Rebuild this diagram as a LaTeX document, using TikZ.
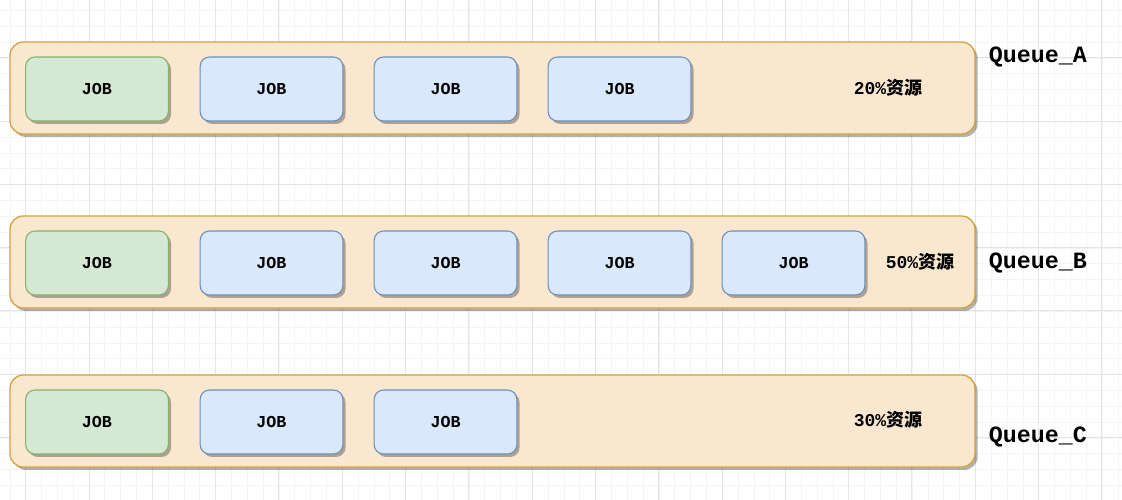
\documentclass[tikz,border=0pt]{standalone}
\usepackage{fontspec}
\newfontfamily\mono{Liberation Mono}
\newfontfamily\cjk{Noto Sans CJK SC}
\usetikzlibrary{shadows}
\definecolor{qfill}{HTML}{FAE7D0}
\definecolor{qdraw}{HTML}{D6A23C}
\definecolor{gfill}{HTML}{D5E8D4}
\definecolor{gdraw}{HTML}{82B366}
\definecolor{bfill}{HTML}{DAE8FC}
\definecolor{bdraw}{HTML}{6C8EBF}
\definecolor{gridminor}{HTML}{F4F4F4}
\definecolor{gridmajor}{HTML}{E4E4E4}
\tikzset{
  myshadow/.style={drop shadow={shadow xshift=2pt, shadow yshift=-2.2pt, opacity=0.3, fill=black}},
  queuebox/.style={rectangle, rounded corners=10pt, fill=qfill, draw=qdraw, line width=1pt,
    minimum width=723.75pt, minimum height=69pt, inner sep=0pt, myshadow},
  jobbox/.style={rectangle, rounded corners=7pt, line width=0.8pt,
    minimum width=107pt, minimum height=48pt, inner sep=0pt, myshadow,
    font=\mono\bfseries\fontsize{12.5pt}{14pt}\selectfont},
  greenjob/.style={jobbox, fill=gfill, draw=gdraw},
  bluejob/.style={jobbox, fill=bfill, draw=bdraw},
  pct/.style={inner sep=0pt, font=\fontsize{13.5pt}{16pt}\selectfont},
  qlabel/.style={inner sep=0pt, font=\mono\bfseries\fontsize{17.5pt}{20pt}\selectfont},
}
\newcommand{\pcttext}[1]{{\mono\bfseries #1}{\cjk\bfseries 资源}}
\begin{document}
\begin{tikzpicture}[x=0.75pt, y=-0.75pt]
\useasboundingbox (0,0) rectangle (1122,500);
\fill[white] (0,0) rectangle (1122,500);
% grid
\foreach \i in {0,...,70} {
  \pgfmathsetmacro{\gx}{9.9+15.83*\i}
  \draw[gridminor, line width=0.6pt] (\gx,0) -- (\gx,500);
}
\foreach \i in {0,...,32} {
  \pgfmathsetmacro{\gy}{10.5+15.83*\i}
  \draw[gridminor, line width=0.6pt] (0,\gy) -- (1122,\gy);
}
\foreach \i in {0,...,17} {
  \pgfmathsetmacro{\gx}{25.7+63.3*\i}
  \draw[gridmajor, line width=0.75pt] (\gx,0) -- (\gx,500);
}
\foreach \i in {0,...,8} {
  \pgfmathsetmacro{\gy}{-5.6+63.3*\i}
  \draw[gridmajor, line width=0.75pt] (0,\gy) -- (1122,\gy);
}
% queues
\node[queuebox] (qa) at (492.5,88) {};
\node[queuebox] (qb) at (492.5,262) {};
\node[queuebox] (qc) at (492.5,421) {};
% jobs queue A
\node[greenjob] (a1) at (97,89) {JOB};
\node[bluejob] (a2) at (271.5,89) {JOB};
\node[bluejob] (a3) at (445.5,89) {JOB};
\node[bluejob] (a4) at (619.5,89) {JOB};
% jobs queue B
\node[greenjob] (b1) at (97,263) {JOB};
\node[bluejob] (b2) at (271.5,263) {JOB};
\node[bluejob] (b3) at (445.5,263) {JOB};
\node[bluejob] (b4) at (619.5,263) {JOB};
\node[bluejob] (b5) at (793.5,263) {JOB};
% jobs queue C
\node[greenjob] (c1) at (97,422) {JOB};
\node[bluejob] (c2) at (271.5,422) {JOB};
\node[bluejob] (c3) at (445.5,422) {JOB};
% percentages
\node[pct] (pa) at (888,88) {\pcttext{20\%}};
\node[pct] (pb) at (920,262) {\pcttext{50\%}};
\node[pct] (pc) at (888,420) {\pcttext{30\%}};
% queue labels
\node[qlabel] (la) at (1038,57) {Queue\_A};
\node[qlabel] (lb) at (1038,263) {Queue\_B};
\node[qlabel] (lc) at (1038,437) {Queue\_C};
\end{tikzpicture}
\end{document}
